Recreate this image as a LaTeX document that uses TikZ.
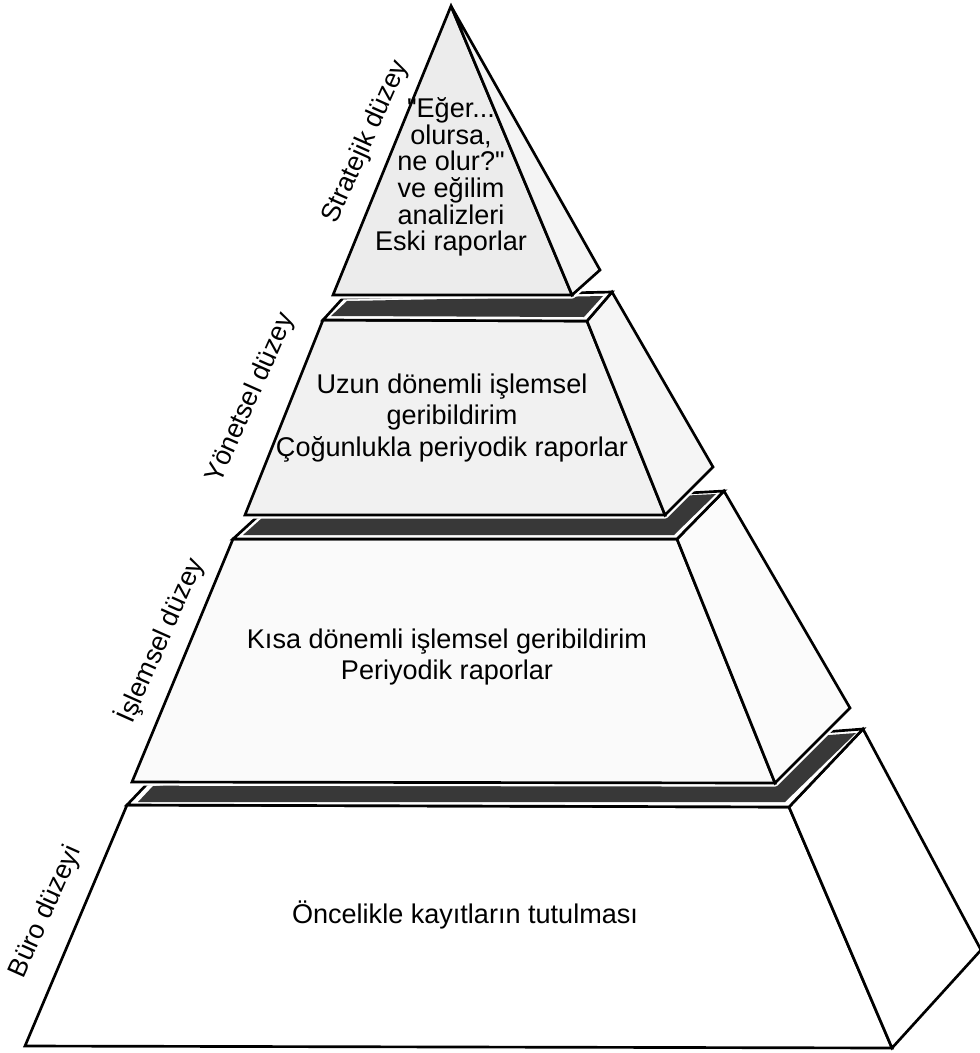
\documentclass[tikz,border=0pt]{standalone}
\usepackage{fontspec}
\setmainfont{Liberation Sans}[Ligatures=TeXOff]
\begin{document}
\begin{tikzpicture}[x=0.75pt,y=-0.75pt,
  face/.style={draw=black, line width=2pt, line join=miter},
  halo/.style={draw=white, line width=5.5pt, line join=round},
  band/.style={fill=black!78},
  body/.style={font=\fontsize{20.3}{23.5}\selectfont, inner sep=0pt, align=center},
  lbl/.style={font=\fontsize{20}{23.5}\selectfont, inner sep=0pt, rotate=66},
]
\useasboundingbox (0,0) rectangle (980,1053);

% --- level 4: clerical level (bottom block)
\path[face, fill=white] (127,805) -- (789,807) -- (892,1048) -- (25,1046) -- cycle;
\path[face, fill=white] (789,807) -- (863,729) -- (981,950) -- (892,1048) -- cycle;
\path[face, fill=white] (127,805) -- (147,784) -- (863,729) -- (789,807) -- cycle;
\fill[band] (138,802) -- (153,786) -- (856,733) -- (785,802) -- cycle;

% --- level 3: operational level
\path[halo] (233,539) -- (677,539) -- (724,491) -- (850,708) -- (775,783) -- (132,782) -- cycle;
\path[face, fill=gray!4] (233,539) -- (677,539) -- (775,783) -- (132,782) -- cycle;
\path[face, fill=gray!3] (677,539) -- (724,491) -- (850,708) -- (775,783) -- cycle;
\path[face, fill=white] (233,539) -- (257,517) -- (724,491) -- (677,539) -- cycle;
\fill[band] (243,535) -- (262,518) -- (716,494) -- (674,535) -- cycle;

% --- level 2: managerial level
\path[halo] (323,320) -- (587,321) -- (612,292) -- (713,467) -- (665,515) -- (245,515) -- cycle;
\path[face, fill=gray!11] (323,320) -- (587,321) -- (665,515) -- (245,515) -- cycle;
\path[face, fill=gray!8] (587,321) -- (612,292) -- (713,467) -- (665,515) -- cycle;
\path[face, fill=white] (323,320) -- (343,298) -- (612,292) -- (587,321) -- cycle;
\fill[band] (331,316) -- (347,301) -- (603,296) -- (584,317) -- cycle;

% --- level 1: strategic level (apex)
\path[halo] (451,6) -- (600,270) -- (572,295) -- (333,295) -- cycle;
\path[face, fill=gray!15] (451,6) -- (572,295) -- (333,295) -- cycle;
\path[face, fill=gray!9] (451,6) -- (600,270) -- (572,295) -- cycle;

% --- texts on the front faces
\node[body, font=\fontsize{20.3}{20}\selectfont] (t1) at (451,177)
  {"Eğer...\\olursa,\\ne olur?"\\ve eğilim\\analizleri\\Eski raporlar};
\node[body] (t2) at (452,418)
  {Uzun dönemli işlemsel\\geribildirim\\Çoğunlukla periyodik raporlar};
\node[body] (t3) at (447,657)
  {Kısa dönemli işlemsel geribildirim\\Periyodik raporlar};
\node[body] (t4) at (465,915) {Öncelikle kayıtların tutulması};

% --- level names along the left edges
\node[lbl] (l1) at (366,142) {Stratejik düzey};
\node[lbl] (l2) at (251,398) {Yönetsel düzey};
\node[lbl] (l3) at (160,640) {İşlemsel düzey};
\node[lbl] (l4) at (46,912) {Büro düzeyi};
\end{tikzpicture}
\end{document}
